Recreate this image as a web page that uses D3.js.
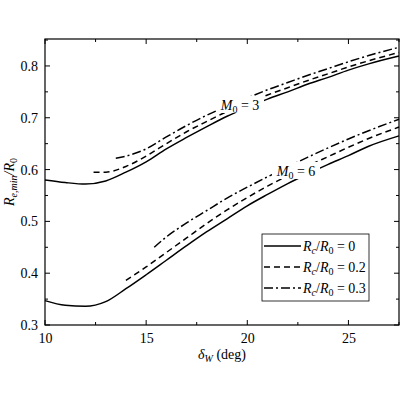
<!DOCTYPE html><html><head><script src="https://cdn.jsdelivr.net/npm/d3@7"></script>
<style>body{margin:0;background:#fff}text{font-family:"Liberation Serif",serif}</style></head><body><svg id="c" width="400" height="400"></svg><script>
const xTicks=[10,15,20,25], yTicks=[0.3,0.4,0.5,0.6,0.7,0.8];
const m3_0=[[10,0.58],[11,0.575],[12,0.572],[13,0.578],[14,0.595],[15,0.615],[16,0.64],[17,0.662],[18,0.683],[19,0.703],[20,0.72],[21,0.736],[22,0.75],[23,0.765],[24,0.778],[25,0.792],[26,0.804],[27.5,0.819]];
const m3_2=[[12.4,0.595],[13,0.595],[14,0.606],[15,0.626],[16,0.65],[17,0.673],[18,0.693],[19,0.712],[20,0.728],[21,0.744],[22,0.758],[23,0.772],[24,0.785],[25,0.798],[26,0.81],[27.5,0.826]];
const m3_3=[[13.5,0.622],[14,0.626],[15,0.64],[16,0.663],[17,0.685],[18,0.705],[19,0.722],[20,0.738],[21,0.754],[22,0.768],[23,0.782],[24,0.795],[25,0.808],[26,0.82],[27.5,0.836]];
const m6_0=[[10,0.347],[11,0.338],[12,0.336],[13,0.345],[14,0.37],[15,0.397],[16,0.425],[17,0.453],[18,0.48],[19,0.505],[20,0.53],[21,0.552],[22,0.573],[23,0.592],[24,0.61],[25,0.627],[26,0.645],[27.5,0.665]];
const m6_2=[[14,0.386],[15,0.412],[16,0.44],[17,0.468],[18,0.496],[19,0.522],[20,0.546],[21,0.568],[22,0.588],[23,0.607],[24,0.625],[25,0.643],[26,0.66],[27.5,0.682]];
const m6_3=[[15.4,0.45],[16,0.47],[17,0.497],[18,0.521],[19,0.545],[20,0.566],[21,0.586],[22,0.605],[23,0.624],[24,0.642],[25,0.659],[26,0.675],[27.5,0.697]];
const svg=d3.select("#c");
const L=45,R=399,T=39,B=325;
const x=d3.scaleLinear([10,27.5],[L,R]), y=d3.scaleLinear([0.3,0.852],[B,T]);
const line=d3.line().x(d=>x(d[0])).y(d=>y(d[1])).curve(d3.curveMonotoneX);
const styles=[null,"6,4","9,3,2,3"];
[[m3_0,m3_2,m3_3],[m6_0,m6_2,m6_3]].forEach(g=>g.forEach((s,i)=>svg.append("path").attr("d",line(s)).attr("fill","none").attr("stroke","#000").attr("stroke-width",1.5).attr("stroke-dasharray",styles[i])));
function lab(cx,cy,num){const g=svg.append("g");g.append("rect").attr("x",cx-24).attr("y",cy-9).attr("width",48).attr("height",17).attr("fill","#fff");
const t=g.append("text").attr("x",cx).attr("y",cy+5).attr("text-anchor","middle").attr("font-size",14);
t.append("tspan").attr("font-style","italic").text("M");t.append("tspan").attr("font-size",10).attr("dy",3).text("0");t.append("tspan").attr("dy",-3).text(" = "+num);}
lab(240,105,3);lab(296,171,6);
svg.append("g").attr("transform",`translate(0,${B})`).call(d3.axisBottom(x).tickValues(xTicks).tickSize(0).tickPadding(8)).call(g=>{g.select(".domain").remove();g.selectAll("text").attr("font-size",14).attr("font-family","Liberation Serif");});
svg.append("g").attr("transform",`translate(${L},0)`).call(d3.axisLeft(y).tickValues(yTicks).tickFormat(d3.format(".1f")).tickSize(0).tickPadding(7)).call(g=>{g.select(".domain").remove();g.selectAll("text").attr("font-size",14).attr("font-family","Liberation Serif");});
// ticks inward
const tk=svg.append("g").attr("stroke","#000");
d3.range(10,27.6,2.5).forEach(v=>{const l=v%5===0?5:3;tk.append("line").attr("x1",x(v)).attr("x2",x(v)).attr("y1",B).attr("y2",B-l);tk.append("line").attr("x1",x(v)).attr("x2",x(v)).attr("y1",T).attr("y2",T+l);});
d3.range(0.3,0.86,0.05).forEach(v=>{const l=Math.abs(v*10-Math.round(v*10))<0.01?5:3;tk.append("line").attr("x1",L).attr("x2",L+l).attr("y1",y(v)).attr("y2",y(v));tk.append("line").attr("x1",R).attr("x2",R-l).attr("y1",y(v)).attr("y2",y(v));});
svg.append("rect").attr("x",L).attr("y",T).attr("width",R-L).attr("height",B-T).attr("fill","none").attr("stroke","#000").attr("stroke-width",1.2);
// legend
svg.append("rect").attr("x",262).attr("y",234).attr("width",107).attr("height",67).attr("fill","#fff").attr("stroke","#000").attr("stroke-width",0.8);
["0","0.2","0.3"].forEach((v,i)=>{const yy=246+i*21;svg.append("line").attr("x1",264).attr("x2",301).attr("y1",yy).attr("y2",yy).attr("stroke","#000").attr("stroke-width",1.5).attr("stroke-dasharray",styles[i]);
const t=svg.append("text").attr("x",303).attr("y",yy+5).attr("font-size",14);
t.append("tspan").attr("font-style","italic").text("R");t.append("tspan").attr("font-style","italic").attr("font-size",10).attr("dy",3).text("c");t.append("tspan").attr("dy",-3).text("/");t.append("tspan").attr("font-style","italic").text("R");t.append("tspan").attr("font-size",10).attr("dy",3).text("0");t.append("tspan").attr("dy",-3).text(" = "+v);});
const xl=svg.append("text").attr("x",222).attr("y",359).attr("text-anchor","middle").attr("font-size",14);
xl.append("tspan").attr("font-style","italic").text("δ");xl.append("tspan").attr("font-style","italic").attr("font-size",10).attr("dy",3).text("W");xl.append("tspan").attr("dy",-3).text(" (deg)");
const yl=svg.append("text").attr("transform",`translate(14,${(T+B)/2}) rotate(-90)`).attr("text-anchor","middle").attr("font-size",14);
yl.append("tspan").attr("font-style","italic").text("R");yl.append("tspan").attr("font-style","italic").attr("font-size",10).attr("dy",3).text("e,min");yl.append("tspan").attr("font-style","italic").attr("dy",-3).text("/R");yl.append("tspan").attr("font-size",10).attr("dy",3).text("0");
</script></body></html>
